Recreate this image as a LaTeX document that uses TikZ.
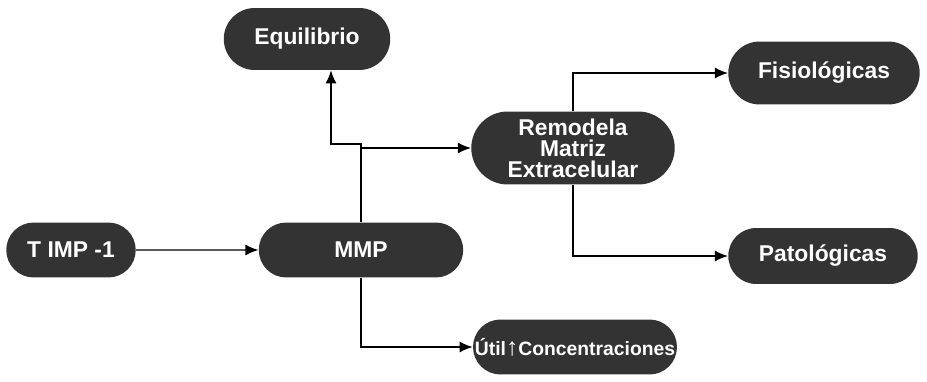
\documentclass[tikz,border=0pt]{standalone}
\usepackage{fontspec}
\setmainfont{Liberation Sans}
\usetikzlibrary{shapes.misc,arrows.meta}
\tikzset{
  caja/.style={rounded rectangle,fill=black!80,text=white,
    font=\fontsize{13}{12}\selectfont\bfseries,align=center,inner sep=1pt},
  flecha/.style={thick,-{Latex[length=2.6mm,width=2.2mm]}}
}
\begin{document}
\begin{tikzpicture}[x=0.02cm,y=-0.02cm]
  \useasboundingbox (0,0) rectangle (927,382);
  % cajas
  \node[caja,minimum width=3.4cm,minimum height=1.24cm] (equil) at (307,39) {Equilibrio};
  \node[caja,minimum width=3.9cm,minimum height=1.26cm] (fisio) at (824,73) {Fisiológicas};
  \node[caja,minimum width=4.14cm,minimum height=1.46cm] (remod) at (573,148) {Remodela\\Matriz\\Extracelular};
  \node[caja,minimum width=2.66cm,minimum height=1.1cm] (timp) at (71,250) {T IMP -1};
  \node[caja,minimum width=4.16cm,minimum height=1.1cm] (mmp) at (361,250) {MMP};
  \node[caja,minimum width=3.86cm,minimum height=1.12cm] (pato) at (823,256) {Patológicas};
  \node[caja,minimum width=4.08cm,minimum height=1.1cm,inner xsep=0pt,
    font=\fontsize{11}{12}\selectfont\bfseries] (util) at (575,347)
    {Útil{\fontsize{14}{12}\selectfont\char"2191}Concentraciones};
  % conexiones
  \coordinate (codo) at (331,144);
  \draw[flecha] (timp) -- (mmp);
  \draw[flecha] (mmp.north) |- (remod.west);
  \draw[flecha] (mmp.north) |- (codo) -- (codo |- equil.south);
  \draw[flecha] (remod.north) |- (fisio.west);
  \draw[flecha] (remod.south) |- (pato.west);
  \draw[flecha] (mmp.south) |- (util.west);
\end{tikzpicture}
\end{document}
